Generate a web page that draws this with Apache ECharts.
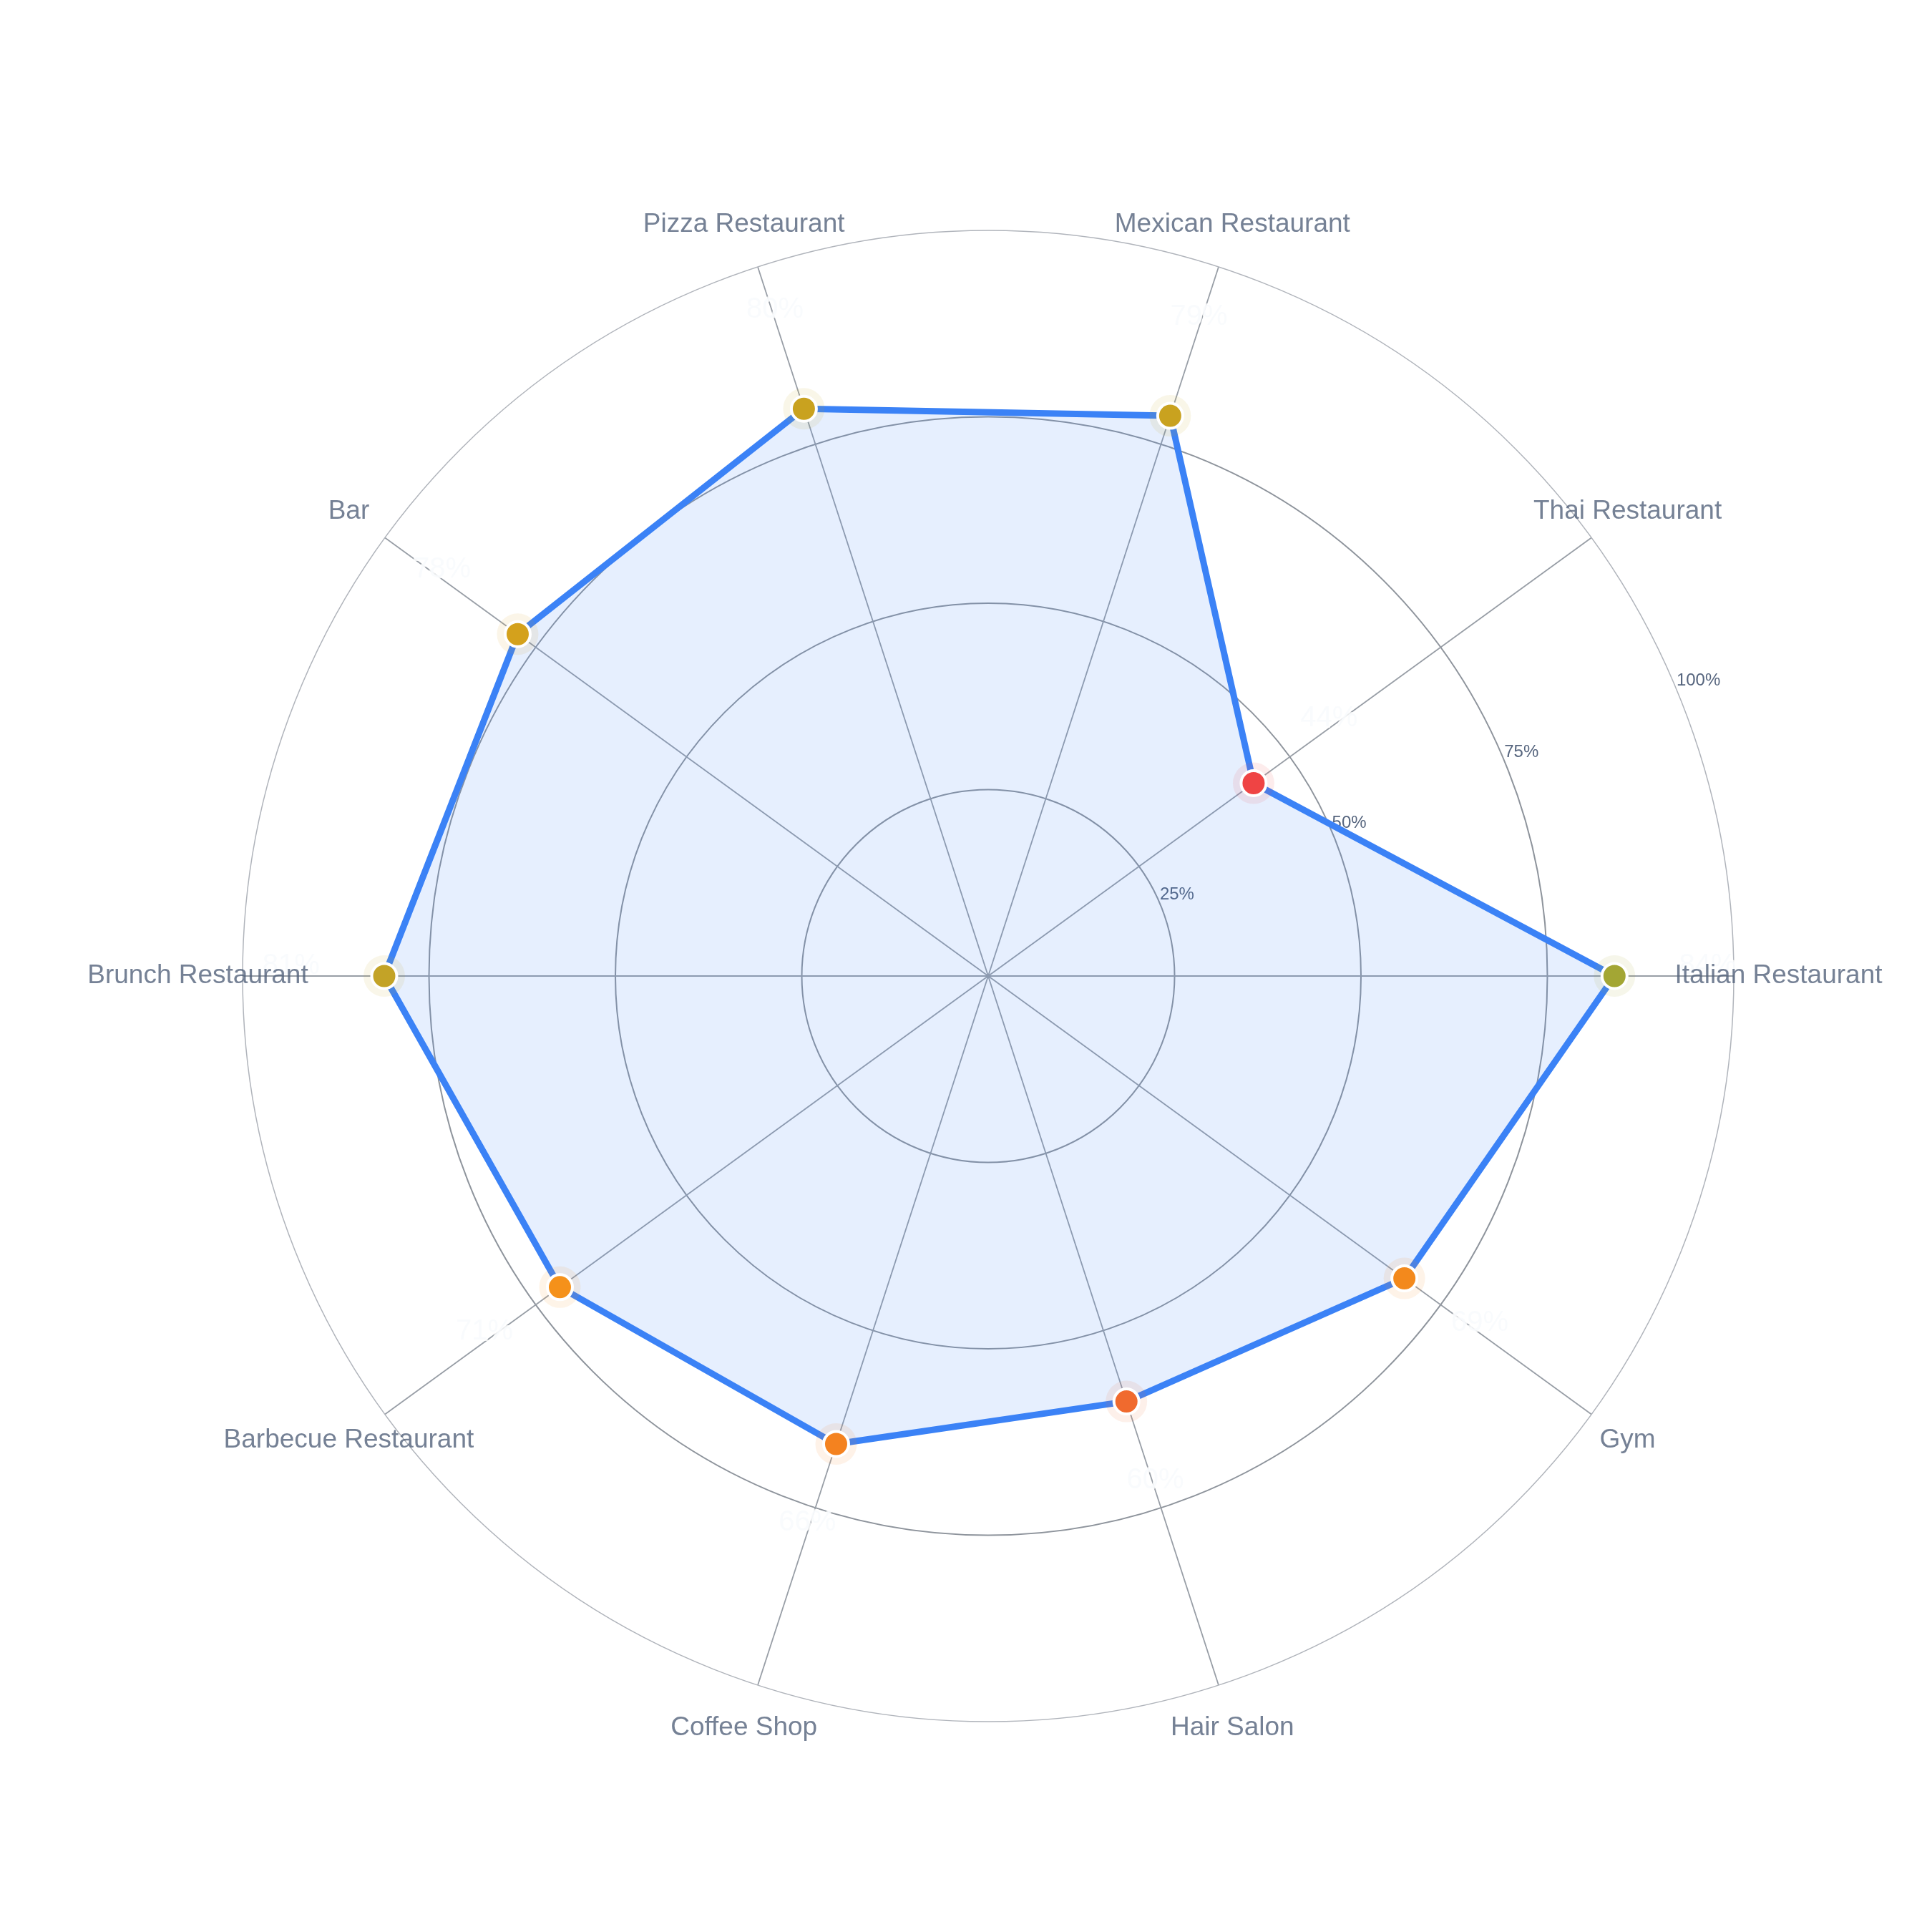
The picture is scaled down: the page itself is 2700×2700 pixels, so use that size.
<!DOCTYPE html>
<html>
<head>
<meta charset="utf-8">
<script src="https://cdn.jsdelivr.net/npm/echarts@6/dist/echarts.min.js"></script>
<style>
  html, body { margin: 0; padding: 0; background: #ffffff; }
  #chart { width: 2700px; height: 2700px; }
</style>
</head>
<body>
<div id="chart"></div>
<script>
// ---- data ----
const categories = [
  'Italian Restaurant', 'Thai Restaurant', 'Mexican Restaurant', 'Pizza Restaurant',
  'Bar', 'Brunch Restaurant', 'Barbecue Restaurant', 'Coffee Shop', 'Hair Salon', 'Gym'
];
const values = [84, 44, 79, 80, 78, 81, 71, 66, 60, 69];
const radialTicks = [0, 25, 50, 75, 100];
// marker colours
const markerColors = [
  '#a3a634', '#ef4444', '#c9a21f', '#c9a21f', '#d4a11c',
  '#c3a327', '#f5911a', '#f4821f', '#f06a2e', '#f3891c'
];

// ---- styles ----
const FONT = '"Liberation Sans", Arial, Helvetica, sans-serif';
const CENTER = [1381, 1364];
const RADIUS = 1042;
const LABEL_OFFSET = 12.5;  // value labels sit a little beyond the point (in axis units)
const NAME_RADIUS = 106;    // category names are centred just outside the outer ring

// each category occupies an equal share of the full turn on the angle axis
const STEP = 360 / categories.length;
const angleOf = i => i * STEP;

function hexToRgba(hex, a) {
  const n = parseInt(hex.slice(1), 16);
  return `rgba(${(n >> 16) & 255},${(n >> 8) & 255},${n & 255},${a})`;
}

const lineData = values.map((v, i) => [v, angleOf(i)]);
lineData.push([values[0], 360]); // close the polygon

const chart = echarts.init(document.getElementById('chart'), null, { renderer: 'canvas' });
chart.setOption({
  backgroundColor: '#ffffff',
  animation: false,
  polar: [
    { center: CENTER, radius: RADIUS },
    { center: CENTER, radius: RADIUS }
  ],
  angleAxis: [
    {
      polarIndex: 0,
      type: 'value',
      min: 0, max: 360, interval: STEP,
      startAngle: 0,
      clockwise: false,
      axisLine: { show: true, lineStyle: { color: '#b0b4bb', width: 1.5 } },
      axisTick: { show: false },
      axisLabel: { show: false },
      splitLine: { show: true, lineStyle: { color: '#989ea6', width: 1.8 } }
    },
    {
      polarIndex: 1,
      type: 'value',
      min: 0, max: 360,
      startAngle: 22.5,
      clockwise: false,
      show: false
    }
  ],
  radiusAxis: [
    {
      polarIndex: 0,
      type: 'value',
      min: 0, max: 100, interval: 25,
      axisLine: { show: false },
      axisTick: { show: false },
      axisLabel: { show: false },
      splitLine: {
        show: true,
        lineStyle: { color: ['#8e949c', '#8e949c', '#8e949c', '#8e949c', 'rgba(0,0,0,0)'], width: 2 }
      }
    },
    {
      polarIndex: 1,
      type: 'value',
      min: 0, max: 100, interval: 25,
      axisLine: { show: false },
      axisTick: { show: false },
      splitLine: { show: false },
      axisLabel: {
        show: true,
        showMinLabel: false,
        margin: 2,
        align: 'left',
        verticalAlign: 'bottom',
        formatter: v => radialTicks.includes(v) ? v + '%' : '',
        color: '#56657e', fontSize: 24, fontFamily: FONT
      }
    }
  ],
  series: [
    {
      type: 'line',
      coordinateSystem: 'polar',
      polarIndex: 0,
      data: lineData,
      clip: false,
      symbol: 'none',
      lineStyle: { color: '#3b82f6', width: 9, opacity: 1 },
      areaStyle: { color: 'rgba(59,130,246,0.13)', opacity: 1 },
      z: 2
    },
    {
      type: 'scatter',
      coordinateSystem: 'polar',
      polarIndex: 0,
      clip: false,
      symbolSize: 58,
      silent: true,
      data: values.map((v, i) => ({
        value: [v, angleOf(i)],
        itemStyle: { color: hexToRgba(markerColors[i], 0.1), opacity: 1 }
      })),
      z: 3
    },
    {
      type: 'scatter',
      coordinateSystem: 'polar',
      polarIndex: 0,
      clip: false,
      symbolSize: 35,
      data: values.map((v, i) => ({
        value: [v, angleOf(i)],
        itemStyle: { color: markerColors[i], borderColor: '#ffffff', borderWidth: 4, opacity: 1 }
      })),
      z: 4
    },
    {
      // value labels
      type: 'scatter',
      coordinateSystem: 'polar',
      polarIndex: 0,
      clip: false,
      symbolSize: 1,
      silent: true,
      itemStyle: { color: 'rgba(0,0,0,0)' },
      data: values.map((v, i) => [v + LABEL_OFFSET, angleOf(i)]),
      label: {
        show: true,
        position: 'inside',
        offset: [0, -14],
        formatter: p => values[p.dataIndex] + '%',
        color: '#f8fafc',
        fontSize: 40,
        fontFamily: FONT,
        textBorderColor: '#ffffff',
        textBorderWidth: 4
      },
      z: 5
    },
    {
      // category names, centred on each spoke just outside the outer ring
      type: 'scatter',
      coordinateSystem: 'polar',
      polarIndex: 0,
      clip: false,
      symbolSize: 1,
      silent: true,
      itemStyle: { color: 'rgba(0,0,0,0)' },
      data: categories.map((c, i) => [NAME_RADIUS, angleOf(i)]),
      label: {
        show: true,
        position: 'inside',
        formatter: p => categories[p.dataIndex],
        color: '#52617a',
        fontSize: 37,
        fontFamily: FONT
      },
      z: 6
    }
  ]
});
</script>
</body>
</html>
